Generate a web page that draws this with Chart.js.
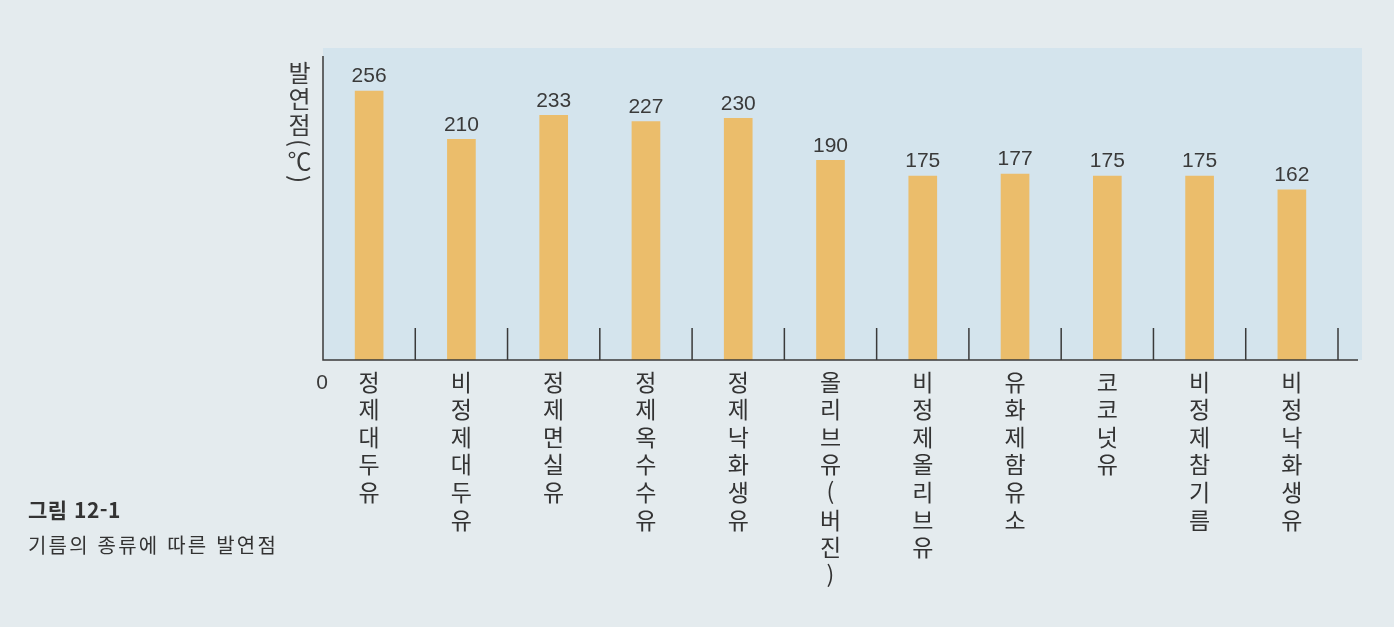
<!DOCTYPE html>
<html lang="ko">
<head>
    <meta charset="UTF-8">
    <title>기름의 종류에 따른 발연점</title>
    <script src="https://cdn.jsdelivr.net/npm/chart.js"></script>
    <style>
        body {
            margin: 0;
            background-color: #e4ebee;
            font-family: 'Noto Sans CJK KR', 'Noto Sans', sans-serif;
            color: #333;
        }
        .wrap {
            position: relative;
            width: 1394px;
            height: 627px;
        }
        .y-title {
            position: absolute;
            left: 287px;
            top: 61px;
            writing-mode: vertical-rl;
            text-orientation: mixed;
            font-size: 24px;
            line-height: 1;
            letter-spacing: 2px;
            color: #3a3a3a;
        }
        .caption {
            position: absolute;
            left: 28px;
            top: 494px;
            color: #333;
        }
        .caption .num {
            font-size: 21px;
            font-weight: bold;
            letter-spacing: 0.5px;
            margin-bottom: 6px;
        }
        .caption .desc {
            font-size: 20px;
            letter-spacing: 2.2px;
        }
    </style>
</head>
<body>
<div class="wrap">
    <canvas id="chart"></canvas>
    <div class="y-title">발연점(℃)</div>
    <div class="caption">
        <div class="num">그림 12-1</div>
        <div class="desc">기름의 종류에 따른 발연점</div>
    </div>
</div>
<script>
    const oils = ['정제대두유', '비정제대두유', '정제면실유', '정제옥수수유', '정제낙화생유', '올리브유(버진)',
        '비정제올리브유', '유화제함유소', '코코넛유', '비정제참기름', '비정낙화생유'];
    const smokePoints = [256, 210, 233, 227, 230, 190, 175, 177, 175, 175, 162];

    // panel, axis lines, short separators, value labels and the lone "0"
    const decor = {
        id: 'decor',
        beforeDatasetsDraw(chart) {
            const {ctx, chartArea: a} = chart;
            ctx.save();
            ctx.fillStyle = '#d4e4ed';
            ctx.fillRect(a.left, a.top, a.right + 24 - a.left, a.bottom - a.top);
            ctx.restore();
        },
        afterDatasetsDraw(chart) {
            const {ctx, chartArea: a, scales} = chart;
            const xs = scales.x, ys = scales.y;
            const step = xs.getPixelForValue(1) - xs.getPixelForValue(0);
            const base = ys.getPixelForValue(0);
            ctx.save();
            ctx.strokeStyle = '#3a3a3a';
            ctx.lineWidth = 1.5;
            ctx.beginPath();
            ctx.moveTo(a.left, a.top + 8);
            ctx.lineTo(a.left, base);
            ctx.lineTo(a.right + 20, base);
            for (let i = 0; i < oils.length; i++) {
                const x = xs.getPixelForValue(i) + step / 2;
                ctx.moveTo(x, base - 32);
                ctx.lineTo(x, base);
            }
            ctx.stroke();

            ctx.fillStyle = '#3a3a3a';
            ctx.font = '21px "Liberation Sans", Arial, sans-serif';
            ctx.textAlign = 'center';
            ctx.textBaseline = 'bottom';
            chart.getDatasetMeta(0).data.forEach((bar, i) => {
                ctx.fillText(smokePoints[i], bar.x, bar.y - 4);
            });
            ctx.textBaseline = 'middle';
            ctx.fillText('0', a.left - 1, base + 23);
            ctx.restore();
        }
    };

    new Chart(document.getElementById('chart'), {
        type: 'bar',
        data: {
            labels: oils.map(s => Array.from(s)),
            datasets: [{
                data: smokePoints,
                backgroundColor: '#ebbd6b',
                barThickness: 28
            }]
        },
        options: {
            responsive: true,
            maintainAspectRatio: false,
            animation: false,
            layout: {padding: {top: 48, right: 56, left: 0, bottom: 0}},
            plugins: {legend: {display: false}, tooltip: {enabled: false}},
            scales: {
                x: {
                    grid: {display: false, drawTicks: false},
                    border: {display: false},
                    ticks: {
                        autoSkip: false,
                        maxRotation: 0,
                        padding: 8,
                        color: '#333',
                        font: {family: "'Noto Sans CJK KR', sans-serif", size: 23, lineHeight: 1.2}
                    },
                    afterFit(scale) { scale.height = 267; }
                },
                y: {
                    min: 0,
                    max: 297,
                    grid: {display: false},
                    border: {display: false},
                    ticks: {display: false},
                    afterFit(scale) { scale.width = 323; }
                }
            }
        },
        plugins: [decor]
    });
</script>
</body>
</html>
